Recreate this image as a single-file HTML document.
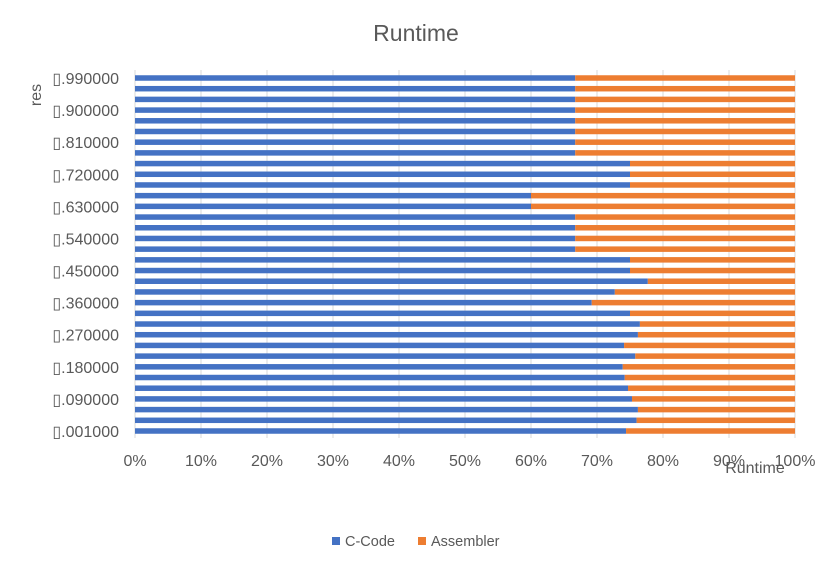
<!DOCTYPE html>
<html><head><meta charset="utf-8"><style>
body{margin:0;background:#fff;width:835px;height:556px;overflow:hidden}
svg{font-family:"Liberation Sans",sans-serif}
</style></head><body>
<svg id="chart" width="835" height="556">
<text x="416" y="41" text-anchor="middle" font-size="23" fill="#595959">Runtime</text>
<text transform="translate(41,95) rotate(-90)" text-anchor="middle" font-size="16" fill="#595959">res</text>
<text x="755" y="473" text-anchor="middle" font-size="16" fill="#595959">Runtime</text>
<g id="grid"></g><g id="bars"></g><g id="ylabels"></g><g id="xlabels"></g>
<g>
<rect x="332" y="537" width="8" height="8" fill="#4472c4"/>
<text x="345" y="546" font-size="14.5" fill="#595959">C-Code</text>
<rect x="418" y="537" width="8" height="8" fill="#ed7d31"/>
<text x="431" y="546" font-size="14.5" fill="#595959">Assembler</text>
</g>
</svg>
<script>
const categories=["0.001000","0.030000","0.060000","0.090000","0.120000","0.150000","0.180000","0.210000","0.240000","0.270000","0.300000","0.330000","0.360000","0.390000","0.420000","0.450000","0.480000","0.510000","0.540000","0.570000","0.600000","0.630000","0.660000","0.690000","0.720000","0.750000","0.780000","0.810000","0.840000","0.870000","0.900000","0.930000","0.960000","0.990000"];
const cCode=[74.4,76,76.2,75.3,74.7,74.2,73.9,75.8,74.1,76.2,76.5,75,69.2,72.7,77.7,75,75,66.7,66.7,66.7,66.7,60,60,75,75,75,66.7,66.7,66.7,66.7,66.7,66.7,66.7,66.7];
const assembler=cCode.map(v=>100-v);
const xTicks=[0,10,20,30,40,50,60,70,80,90,100];
const NS="http://www.w3.org/2000/svg";
const x0=135,x1=795,yBottom=431,yTop=78;
const step=(yBottom-yTop)/(categories.length-1);
const xs=p=>x0+(x1-x0)*p/100;
const ys=i=>yBottom-i*step;
function mk(t,a,parent){const e=document.createElementNS(NS,t);for(const k in a)e.setAttribute(k,a[k]);document.getElementById(parent).appendChild(e);return e;}
xTicks.forEach(t=>{
 const l=mk("line",{x1:xs(t),x2:xs(t),y1:70,y2:438,stroke:"#d9d9d9","stroke-width":1},"grid");
 
 
 const tx=mk("text",{x:xs(t),y:466,"text-anchor":"middle","font-size":16,fill:"#595959"},"xlabels");
 tx.textContent=t+"%";
 
 
});
const total=cCode.map((v,i)=>v+assembler[i]);
categories.forEach((c,i)=>{
 const y=ys(i)-2.75,tot=total[i];
 const wc=cCode[i]/tot*100;
 const b=mk("rect",{x:xs(0),y:y,width:xs(wc)-xs(0),height:5.5,fill:"#4472c4"},"bars");
 
 
 const o=mk("rect",{x:xs(wc),y:y,width:xs(100)-xs(wc),height:5.5,fill:"#ed7d31"},"bars");
 
 
 if(i%3===0){
  const t=mk("text",{x:119,y:ys(i)+6,"text-anchor":"end","font-size":16,fill:"#595959"},"ylabels");
  t.textContent="▯"+c.slice(1);
  
  
 }
});
</script>
</body></html>
